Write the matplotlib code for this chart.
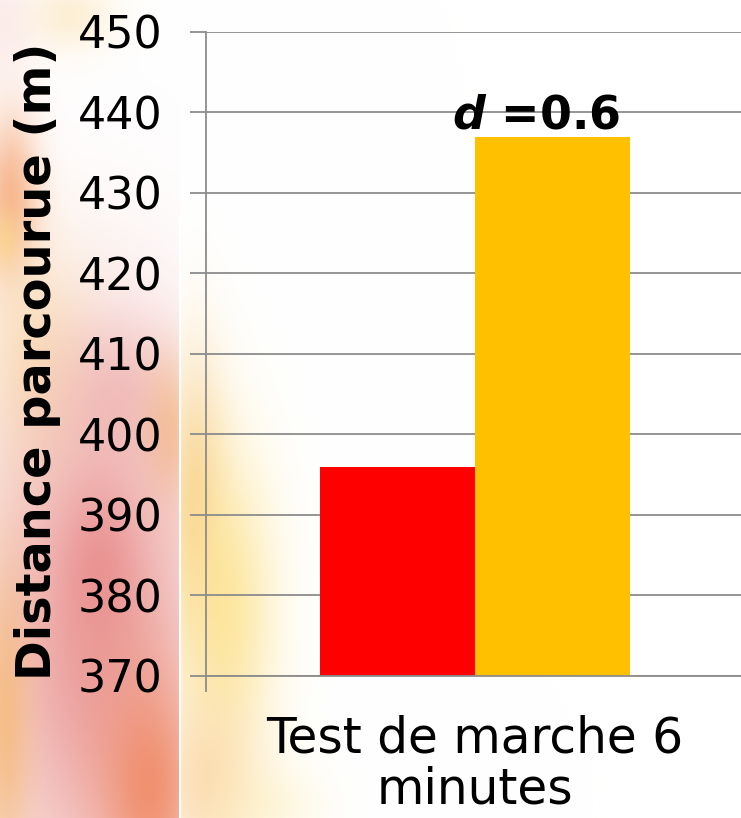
import numpy as np
import matplotlib.pyplot as plt

plt.rcParams.update(
    {
        "font.family": "DejaVu Sans",
        "mathtext.fontset": "custom",
        "mathtext.it": "DejaVu Sans:italic:bold",
    }
)

category = "Test de marche 6\nminutes"
groups = ["groupe A", "groupe B"]
distances = [396, 437]
bar_colors = ["#ff0000", "#ffc000"]
y_ticks = [370, 380, 390, 400, 410, 420, 430, 440, 450]
effect_label = r"$d$ =0.6"
y_label = "Distance parcourue (m)"

W, H = 741, 818
gray = "#8c8c8c"

fig = plt.figure(figsize=(W / 100, H / 100), dpi=100)

# soft blurred slide background on the left
yy, xx = np.mgrid[0:H, 0:W].astype(float)
img = np.ones((H, W, 3))


def blob(cx, cy, sx, sy, color, strength, mask=None):
    global img
    w = strength * np.exp(-((xx - cx) ** 2 / (2 * sx**2) + (yy - cy) ** 2 / (2 * sy**2)))
    if mask is not None:
        w = w * mask
    img = img * (1 - w[..., None]) + np.array(color)[None, None, :] * w[..., None]


left = (xx < 180).astype(float)
right = 1 - left
blob(0, 20, 25, 40, (0.97, 0.86, 0.86), 0.5, left)
blob(70, 15, 30, 25, (0.99, 0.88, 0.68), 0.5, left)
blob(10, 200, 20, 60, (0.96, 0.62, 0.42), 0.75, left)
blob(5, 240, 10, 20, (0.99, 0.85, 0.50), 0.6, left)
blob(35, 360, 40, 80, (0.99, 0.91, 0.70), 0.7, left)
blob(120, 390, 40, 50, (0.93, 0.68, 0.70), 0.5, left)
blob(170, 430, 20, 50, (0.97, 0.76, 0.45), 0.6, left)
blob(95, 640, 80, 190, (0.91, 0.56, 0.55), 0.85, left)
blob(100, 560, 25, 50, (0.90, 0.47, 0.48), 0.4, left)
blob(150, 790, 35, 80, (0.94, 0.50, 0.33), 0.75, left)
blob(5, 720, 18, 110, (0.96, 0.72, 0.45), 0.75, left)
blob(195, 500, 22, 100, (0.97, 0.78, 0.48), 0.7, right)
blob(225, 610, 35, 110, (0.99, 0.88, 0.52), 0.75, right)
blob(205, 785, 35, 60, (0.98, 0.80, 0.58), 0.6, right)
blob(265, 805, 40, 30, (0.99, 0.93, 0.70), 0.4, right)

bg = fig.add_axes([0, 0, 1, 1], zorder=0)
bg.imshow(np.clip(img, 0, 1), aspect="auto", extent=(0, W, H, 0))
bg.set_xlim(0, W)
bg.set_ylim(H, 0)
bg.axis("off")
bg.plot([180, 180], [215, H], color="white", lw=1.5)

ax = fig.add_axes([206 / W, 1 - 676 / H, 538 / W, 644 / H], zorder=1)
ax.patch.set_alpha(0)

width = 0.288
pos = (np.arange(len(distances)) - 0.5) * width
ax.bar(pos, distances, width=width, color=bar_colors, zorder=2)

ax.set_ylim(370, 450)
ax.set_xlim(-0.5, 0.5)
ax.set_yticks(y_ticks)
ax.yaxis.grid(True, color=gray, lw=1.3)
ax.set_axisbelow(True)

for s in ["top", "right"]:
    ax.spines[s].set_visible(False)
for s in ["left", "bottom"]:
    ax.spines[s].set_color(gray)
    ax.spines[s].set_linewidth(1.3)

ax.tick_params(axis="y", length=11.5, width=1.3, color=gray, pad=20, labelsize=32)
ax.set_xticks([-0.5], [""])
ax.tick_params(axis="x", which="major", length=11.5, width=1.3, color=gray)
ax.set_xticks([0], [category], minor=True)
ax.tick_params(axis="x", which="minor", length=0, pad=27.5, labelsize=35)
for t in ax.get_xticklabels(minor=True):
    t.set_linespacing(1.1)

ax.set_ylabel(y_label, fontsize=34.5, fontweight="bold", va="center")
ax.yaxis.set_label_coords(-0.314, 0.489)

ax.annotate(
    effect_label,
    (pos[1], distances[1]),
    xytext=(-12, 6),
    textcoords="offset points",
    ha="center",
    va="baseline",
    fontsize=33,
    fontweight="bold",
)

fig.savefig("out.png", dpi=100)
